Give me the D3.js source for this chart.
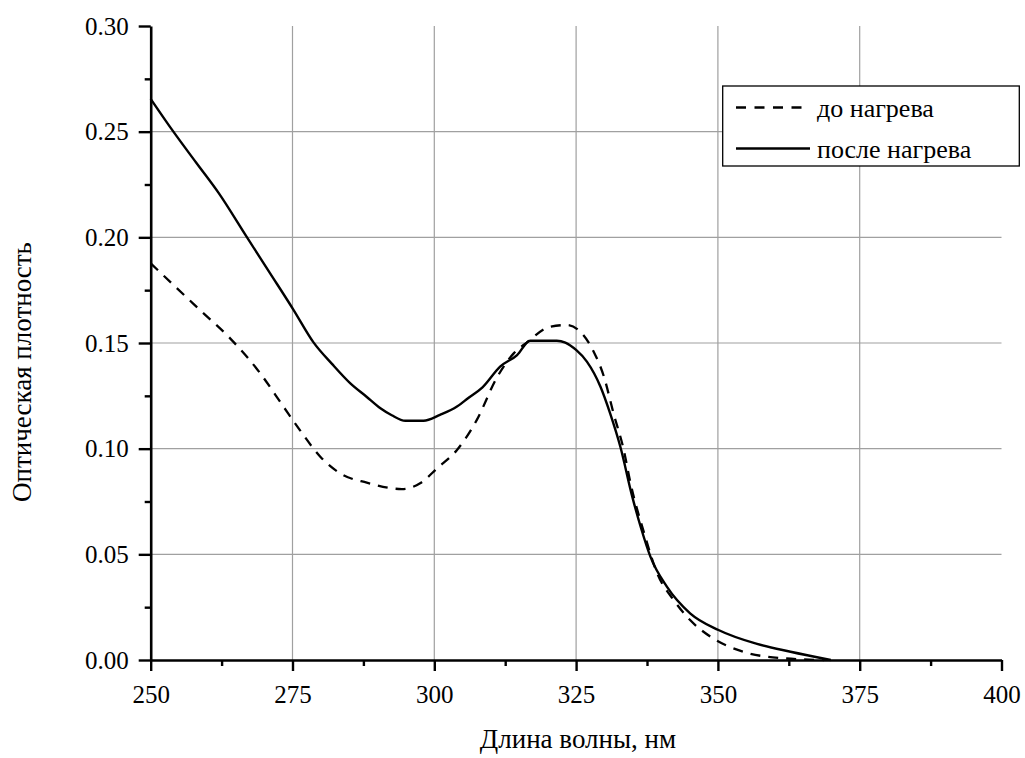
<!DOCTYPE html>
<html><head><meta charset="utf-8">
<script src="https://cdn.jsdelivr.net/npm/d3@7"></script>
<style>
@font-face{font-family:"ChartSerif";src:local("Liberation Serif"),local("LiberationSerif"),local("LiberationSerif-Regular"),local("Tinos"),local("Times New Roman");}
body{margin:0;background:#fff}
</style>
</head><body>
<script>
const beforeX = [250, 254, 258.7, 264, 269.3, 273.4, 276.3, 279.9, 283.4, 288.1, 294.3, 297.5, 300.5, 304, 307.5, 311, 314, 316.3, 320.4, 323.4, 325.7, 328.1, 329.9, 331.6, 333.4, 334.6, 337, 339.3, 342.2, 345.1, 348.7, 354.5, 361.6, 368.7];
const beforeY = [0.1877, 0.1775, 0.1656, 0.1522, 0.1357, 0.1199, 0.1088, 0.0962, 0.0883, 0.0839, 0.0809, 0.0836, 0.0907, 0.0994, 0.1136, 0.1335, 0.1451, 0.1502, 0.1577, 0.1585, 0.1554, 0.1459, 0.1341, 0.1167, 0.0994, 0.0836, 0.0600, 0.0410, 0.0284, 0.0189, 0.0110, 0.0039, 0.0008, 0.0];
const afterX = [250, 254, 258, 262, 266.9, 271, 275.2, 278.7, 282, 285.2, 288, 290.5, 292.5, 294.9, 298.1, 301, 304, 306, 308.5, 311.6, 314.6, 316.9, 321.6, 323.1, 325, 326.9, 329.3, 331, 332.8, 334.9, 336.5, 338.1, 341, 345.1, 350.1, 356.9, 362.8, 369.9];
const afterY = [0.2655, 0.25, 0.2354, 0.2209, 0.2003, 0.1832, 0.1656, 0.1503, 0.1400, 0.1309, 0.1247, 0.1191, 0.1158, 0.1132, 0.1132, 0.1160, 0.1199, 0.1240, 0.1290, 0.1388, 0.1443, 0.1511, 0.1511, 0.1502, 0.1467, 0.1412, 0.1293, 0.1167, 0.1009, 0.0773, 0.0620, 0.0489, 0.0347, 0.0221, 0.0142, 0.0076, 0.0039, 0.0];
const xTicks = [250, 275, 300, 325, 350, 375, 400];
const xMinor = [262.5, 287.5, 312.5, 337.5, 362.5, 387.5];
const yTicks = [0.00, 0.05, 0.10, 0.15, 0.20, 0.25, 0.30];
const yMinor = [0.025, 0.075, 0.125, 0.175, 0.225, 0.275];
const seriesNames = ["до нагрева", "после нагрева"];
const xTitle = "Длина волны, нм";
const yTitle = "Оптическая плотность";

const W = 1025, H = 758;
const L = 150.7, R = 1001.5, T = 26, B = 660;
const FONT = '"Times New Roman", "Liberation Serif", ChartSerif, Tinos, serif';
const svg = d3.select("body").append("svg").attr("width", W).attr("height", H)
  .style("font-family", FONT);
const x = d3.scaleLinear().domain([250, 400]).range([L, R]);
const y = d3.scaleLinear().domain([0, 0.30]).range([B, T]);

// grid
const grid = svg.append("g").attr("stroke", "#a0a0a0").attr("stroke-width", 1.2);
grid.selectAll(".vg").data(xTicks.filter(d => d > 250 && d < 400)).join("line")
  .attr("x1", d => x(d)).attr("x2", d => x(d)).attr("y1", T).attr("y2", B);
grid.selectAll(".hg").data(yTicks.filter(d => d > 0 && d < 0.30)).join("line")
  .attr("x1", L).attr("x2", R).attr("y1", d => y(d)).attr("y2", d => y(d));

// curves
const line = d3.line().x(d => x(d[0])).y(d => y(d[1])).curve(d3.curveMonotoneX);
const beforeData = beforeX.map((v, i) => [v, beforeY[i]]);
const afterData = afterX.map((v, i) => [v, afterY[i]]);
svg.append("path").datum(beforeData).attr("d", line).attr("fill", "none")
  .attr("stroke", "#000").attr("stroke-width", 2.3).attr("stroke-dasharray", "10,8");
svg.append("path").datum(afterData).attr("d", line).attr("fill", "none")
  .attr("stroke", "#000").attr("stroke-width", 2.4);

// axes
const xa = svg.append("g").attr("transform", `translate(0,${B})`)
  .call(d3.axisBottom(x).tickValues(xTicks).tickSize(11).tickSizeOuter(0).tickPadding(14).tickFormat(d3.format("d")));
svg.append("g").attr("transform", `translate(0,${B})`)
  .call(d3.axisBottom(x).tickValues(xMinor).tickSize(6).tickSizeOuter(0).tickFormat(""))
  .call(g => g.select(".domain").remove());
const ya = svg.append("g").attr("transform", `translate(${L},0)`)
  .call(d3.axisLeft(y).tickValues(yTicks).tickSize(12).tickSizeOuter(0).tickPadding(10).tickFormat(d3.format(".2f")));
svg.append("g").attr("transform", `translate(${L},0)`)
  .call(d3.axisLeft(y).tickValues(yMinor).tickSize(6).tickSizeOuter(0).tickFormat(""))
  .call(g => g.select(".domain").remove());
svg.selectAll("g").attr("font-family", null).attr("font-size", null);
svg.selectAll(".domain").attr("stroke", "#000").attr("stroke-width", 2.6);
svg.selectAll(".tick line").attr("stroke", "#000").attr("stroke-width", 2.4);
svg.selectAll(".tick text").attr("font-size", 25).attr("font-family", FONT).style("font-family", FONT).attr("fill", "#000");
xa.selectAll(".tick text").attr("dy", "0.71em");

// titles
svg.append("text").attr("x", 578).attr("y", 748).attr("text-anchor", "middle")
  .attr("font-size", 27).attr("font-family", FONT).style("font-family", FONT).text(xTitle);
svg.append("text").attr("transform", "translate(31,372) rotate(-90)").attr("text-anchor", "middle")
  .attr("font-size", 27).attr("font-family", FONT).style("font-family", FONT).text(yTitle);

// legend
const lg = svg.append("g");
lg.append("rect").attr("x", 722.7).attr("y", 86).attr("width", 296.6).attr("height", 80)
  .attr("fill", "#fff").attr("stroke", "#000").attr("stroke-width", 1.3);
const ly = [107.5, 148.5];
lg.append("line").attr("x1", 736).attr("x2", 810).attr("y1", ly[0]).attr("y2", ly[0])
  .attr("stroke", "#000").attr("stroke-width", 2.3).attr("stroke-dasharray", "10,8.5");
lg.append("line").attr("x1", 736).attr("x2", 810).attr("y1", ly[1]).attr("y2", ly[1])
  .attr("stroke", "#000").attr("stroke-width", 2.4);
lg.selectAll(".lt").data(seriesNames).join("text").attr("x", 817)
  .attr("y", (d, i) => ly[i] + 9).attr("font-size", 26).attr("font-family", FONT).style("font-family", FONT).text(d => d);
</script>
</body></html>
